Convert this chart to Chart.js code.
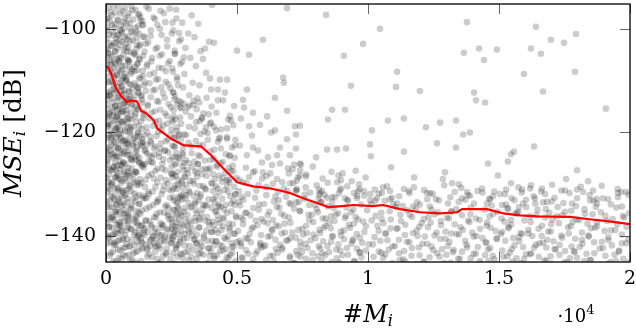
<!DOCTYPE html>
<html>
<head>
<meta charset="utf-8">
<script src="https://cdn.jsdelivr.net/npm/chart.js"></script>
<style>
  body { margin: 0; background: #fff; }
  canvas { display: block; }
</style>
</head>
<body>
<canvas id="mycanvas" width="636" height="330"></canvas>
<script>
// x in units of 10^4 (as printed on the axis), y = MSE_i in dB
var xTicks = [0, 0.5, 1, 1.5, 2];
var yTicks = [-140, -120, -100];

// running mean (red line)
var meanX = [0.004,0.019,0.038,0.057,0.080,0.095,0.118,0.134,0.153,0.183,0.195,0.248,0.298,0.363,0.401,0.447,0.500,0.561,0.626,0.664,0.702,0.752,0.817,0.847,0.900,0.943,1.019,1.057,1.122,1.199,1.275,1.340,1.359,1.454,1.515,1.580,1.645,1.771,1.836,1.912,2.000];
var meanY = [-107.1,-108.5,-111.5,-112.9,-114.2,-113.8,-114.0,-115.8,-116.3,-117.7,-119.2,-121.2,-122.5,-122.7,-124.4,-126.9,-129.6,-130.4,-130.8,-131.2,-131.7,-132.7,-133.8,-134.4,-134.2,-134.0,-134.2,-134.0,-134.8,-135.4,-135.6,-135.4,-134.8,-134.8,-135.6,-136.0,-136.2,-136.3,-136.7,-137.1,-137.7];

// samples, x 0 - 0.13
var cloudA = [[0.048,-95.8],[0.113,-96.3],[0.021,-97.4],[0.087,-97.0],[0.064,-96.6],[0.009,-95.9],[0.131,-97.7],[0.036,-96.9],[0.097,-95.6],[0.072,-97.9],
[0.015,-98.6],[0.058,-99.3],[0.104,-98.2],[0.033,-99.8],[0.079,-98.9],[0.122,-99.5],[0.002,-98.1],[0.046,-98.4],[0.091,-99.9],[0.067,-98.7],
[0.027,-100.7],[0.083,-101.4],[0.054,-100.2],[0.118,-101.8],[0.011,-101.1],[0.039,-101.9],[0.096,-100.5],[0.071,-101.6],[0.006,-100.3],[0.126,-100.9],
[0.062,-102.5],[0.019,-103.2],[0.103,-102.2],[0.044,-103.8],[0.085,-103.5],[0.031,-102.8],[0.128,-103.3],[0.075,-102.9],[0.052,-102.1],[0.001,-103.9],
[0.093,-104.5],[0.024,-105.3],[0.068,-104.1],[0.041,-105.8],[0.114,-105.1],[0.008,-104.7],[0.057,-105.6],[0.082,-105.9],[0.035,-104.3],[0.107,-104.9],
[0.016,-106.4],[0.073,-107.2],[0.049,-106.1],[0.099,-107.8],[0.028,-107.5],[0.121,-106.7],[0.061,-107.9],[0.004,-107.0],[0.086,-106.3],[0.037,-106.8],
[0.055,-108.3],[0.012,-109.1],[0.094,-108.7],[0.032,-109.6],[0.078,-109.9],[0.109,-108.2],[0.043,-108.9],[0.066,-109.4],[0.023,-108.5],[0.127,-109.7],
[0.088,-110.6],[0.047,-111.3],[0.007,-110.2],[0.069,-111.8],[0.115,-111.0],[0.029,-110.9],[0.053,-110.4],[0.101,-111.6],[0.018,-111.9],[0.076,-110.1],
[0.034,-112.4],[0.092,-113.1],[0.061,-112.7],[0.005,-113.6],[0.124,-112.2],[0.045,-113.9],[0.081,-113.4],[0.014,-112.9],[0.107,-113.8],[0.058,-112.1],
[0.071,-114.3],[0.026,-115.2],[0.098,-114.8],[0.042,-115.7],[0.119,-115.4],[0.003,-114.6],[0.063,-115.9],[0.085,-114.1],[0.035,-114.9],[0.051,-115.5],
[0.012,-116.5],[0.089,-117.3],[0.057,-116.2],[0.031,-117.8],[0.111,-116.9],[0.074,-117.6],[0.046,-116.7],[0.002,-117.2],[0.096,-116.1],[0.024,-117.5],
[0.067,-118.4],[0.038,-119.2],[0.105,-118.9],[0.017,-119.7],[0.082,-118.1],[0.054,-119.5],[0.123,-119.9],[0.009,-118.6],[0.044,-118.3],[0.093,-119.4],
[0.029,-120.6],[0.077,-121.4],[0.051,-120.2],[0.114,-121.9],[0.006,-121.1],[0.063,-121.7],[0.039,-120.9],[0.091,-120.4],[0.019,-121.5],[0.128,-120.8],
[0.084,-122.3],[0.047,-123.1],[0.013,-122.8],[0.069,-123.7],[0.102,-122.6],[0.032,-123.9],[0.058,-122.1],[0.118,-123.4],[0.001,-123.2],[0.076,-122.9],
[0.041,-124.5],[0.094,-125.2],[0.022,-124.1],[0.066,-125.8],[0.109,-124.8],[0.053,-125.5],[0.008,-125.1],[0.083,-124.3],[0.035,-125.9],[0.125,-125.6],
[0.061,-126.4],[0.017,-127.3],[0.098,-126.9],[0.043,-127.8],[0.074,-126.1],[0.028,-126.7],[0.112,-127.5],[0.055,-127.1],[0.004,-126.2],[0.088,-127.9],
[0.036,-128.6],[0.079,-129.4],[0.012,-128.2],[0.104,-129.1],[0.057,-129.8],[0.025,-129.6],[0.091,-128.4],[0.046,-128.9],[0.121,-129.7],[0.068,-128.1],
[0.007,-130.5],[0.052,-131.3],[0.086,-130.8],[0.033,-131.9],[0.117,-130.2],[0.064,-131.6],[0.021,-130.1],[0.097,-131.4],[0.042,-130.7],[0.075,-131.1],
[0.058,-132.4],[0.015,-133.2],[0.102,-132.9],[0.039,-133.8],[0.081,-133.5],[0.126,-132.1],[0.027,-132.6],[0.069,-133.9],[0.048,-132.8],[0.003,-133.4],
[0.093,-134.6],[0.034,-135.3],[0.061,-134.2],[0.011,-135.8],[0.115,-135.1],[0.077,-135.6],[0.045,-134.9],[0.023,-134.4],[0.087,-135.9],[0.054,-135.4],
[0.018,-136.3],[0.071,-137.1],[0.106,-136.8],[0.041,-137.7],[0.062,-136.5],[0.006,-137.4],[0.123,-137.9],[0.083,-136.1],[0.029,-136.9],[0.049,-137.3],
[0.095,-138.6],[0.036,-139.4],[0.013,-138.2],[0.072,-139.8],[0.056,-138.9],[0.111,-139.2],[0.024,-139.9],[0.084,-138.4],[0.044,-138.7],[0.001,-139.6],
[0.065,-140.4],[0.019,-141.2],[0.098,-140.9],[0.037,-141.7],[0.079,-141.5],[0.119,-140.2],[0.051,-140.7],[0.008,-140.1],[0.089,-141.9],[0.031,-141.3],
[0.046,-142.6],[0.104,-143.3],[0.014,-143.8],[0.073,-142.2],[0.059,-144.4],[0.027,-144.9],[0.092,-144.7],[0.039,-145.4],[0.121,-142.9],[0.066,-143.6],
[0.023,-99.2],[0.061,-100.8],[0.039,-102.6],[0.007,-104.0],[0.081,-104.4],[0.052,-106.6],[0.018,-108.0],[0.070,-109.2],[0.033,-110.5],[0.087,-112.0],[0.011,-112.3],[0.049,-113.0],[0.064,-114.6],[0.027,-116.0],[0.078,-116.4],[0.042,-117.0],[0.005,-118.8],[0.058,-118.0],[0.093,-120.0],[0.021,-120.3],[0.072,-119.6],[0.036,-122.0],[0.055,-121.2],[0.013,-124.4],[0.086,-123.6],[0.047,-124.7],[0.030,-126.6],[0.068,-127.6],[0.003,-128.8],[0.080,-128.3],
[0.044,-101.2],[0.016,-106.0],[0.090,-107.4],[0.059,-111.0],[0.025,-113.4],[0.076,-115.0],[0.008,-116.9],[0.046,-119.0],[0.083,-121.8],[0.019,-122.4],[0.062,-124.0],[0.037,-127.2],[0.099,-125.4],[0.054,-129.0],[0.014,-131.0],[0.071,-132.2],[0.040,-134.0],[0.026,-136.4],[0.060,-138.1],[0.085,-137.6]];
var cloudA2 = [[0.017,-96.8],[0.072,-95.9],[0.123,-97.3],[0.044,-98.2],[0.091,-98.9],[0.006,-99.7],[0.138,-99.2],[0.059,-100.4],[0.027,-101.3],[0.104,-100.9],[0.081,-102.0],[0.013,-102.8],[0.147,-101.6],[0.052,-103.1],[0.116,-103.9],[0.035,-104.4],[0.067,-105.0],[0.002,-105.3],[0.128,-105.8],[0.089,-106.3],[0.021,-106.9],[0.046,-107.8],[0.109,-107.3],[0.074,-108.6],[0.140,-108.1],[0.031,-109.2],[0.058,-109.9],[0.011,-110.3],[0.095,-110.8],[0.121,-111.4],[0.039,-111.9],[0.069,-112.5],[0.004,-112.9],[0.087,-113.5],[0.133,-113.1],[0.025,-114.2],[0.053,-114.8],[0.112,-115.1],[0.078,-115.7],[0.015,-116.2],[0.144,-116.0],[0.041,-116.9],[0.097,-117.4],[0.063,-117.9],[0.008,-118.3],[0.126,-118.8],[0.034,-119.5],[0.084,-119.1],[0.049,-120.3],[0.118,-120.7],[0.019,-121.0],[0.071,-121.6],[0.102,-122.3],[0.037,-122.8],[0.136,-122.0],[0.055,-123.4],[0.003,-123.9],[0.090,-124.3],[0.028,-124.9],[0.114,-125.3],[0.066,-125.8],[0.043,-126.4],[0.148,-126.1],[0.012,-127.0],[0.082,-127.5],[0.105,-128.0],[0.036,-128.7],[0.061,-129.3],[0.129,-129.0],[0.020,-129.8],[0.093,-130.4],[0.047,-130.9],[0.007,-131.5],[0.076,-131.9],[0.117,-132.4],[0.032,-133.0],[0.141,-132.8],[0.057,-133.6],[0.099,-134.1],[0.014,-134.5],[0.070,-135.0],[0.125,-135.4],[0.040,-135.9],[0.086,-136.5],[0.001,-136.8],[0.110,-137.3],[0.051,-137.9],[0.024,-138.4],[0.134,-138.0],[0.079,-138.9],[0.045,-139.5],[0.107,-139.8],[0.010,-140.3],[0.064,-140.8],[0.120,-141.2],[0.030,-141.7],[0.092,-142.1],[0.054,-142.8],[0.139,-142.5],[0.018,-143.3],[0.075,-143.9],[0.100,-144.5],[0.038,-144.8],
[0.029,-95.7],[0.101,-96.4],[0.056,-97.0],[0.009,-97.9],[0.083,-97.6],[0.132,-98.4],[0.036,-99.1],[0.068,-99.9],[0.115,-100.6],[0.048,-101.1],[0.003,-101.9],[0.093,-102.4],[0.024,-103.3],[0.130,-103.0],[0.075,-103.7],[0.107,-104.6],[0.016,-104.9],[0.050,-105.6],[0.142,-105.2],[0.085,-106.0],[0.033,-106.5],[0.119,-106.8],[0.062,-107.1],[0.005,-107.7],[0.097,-108.3],[0.042,-108.8],[0.131,-109.4],[0.077,-109.6],[0.022,-110.1],[0.108,-110.5],[0.060,-111.2],[0.145,-110.9],[0.030,-111.6],[0.088,-112.2],[0.014,-112.7],[0.124,-112.4],[0.047,-113.3],[0.070,-113.8],[0.099,-114.5],[0.036,-114.9],[0.137,-114.3],[0.006,-115.5],[0.064,-115.9],[0.112,-116.4],[0.026,-116.7],[0.083,-117.1],[0.050,-117.6],[0.134,-117.8],[0.017,-118.5],[0.094,-118.9],[0.040,-119.3],[0.073,-119.8],[0.122,-120.1],[0.009,-120.5],[0.057,-120.9],[0.103,-121.3],[0.031,-121.8],[0.080,-122.2],[0.140,-122.6],[0.046,-123.0],[0.016,-123.5],[0.112,-123.8],[0.068,-124.2],[0.035,-124.7],[0.096,-125.0],[0.005,-125.6],[0.127,-125.9],[0.055,-126.3],[0.085,-126.8],[0.023,-127.3],[0.117,-127.7],[0.044,-128.3],[0.073,-128.9],[0.010,-129.5],[0.135,-129.7],[0.091,-130.2],[0.033,-130.7],[0.062,-131.2],[0.108,-131.8],[0.019,-132.3],[0.080,-132.8],[0.049,-133.3],[0.126,-133.8],[0.003,-134.3],[0.094,-134.8],[0.037,-135.3],[0.067,-135.7],[0.113,-136.2],[0.022,-136.6],[0.084,-137.1],[0.052,-137.6],[0.139,-137.8],[0.011,-138.3],[0.098,-138.7],[0.060,-139.1],[0.028,-139.6],[0.123,-140.0],[0.081,-140.5],[0.043,-141.0],[0.006,-141.4],[0.109,-141.8],[0.066,-142.3],[0.026,-143.0],[0.087,-143.6],[0.050,-144.2],[0.115,-145.1]];

// samples, x 0.1 - 0.3
var cloudB = [[0.154,-95.7],[0.208,-96.5],[0.127,-97.2],[0.243,-96.1],[0.181,-97.8],[0.269,-98.0],[0.139,-98.5],[0.196,-99.2],[0.226,-98.7],[0.112,-99.8],
[0.171,-100.3],[0.251,-100.9],[0.143,-101.5],[0.212,-101.2],[0.286,-102.0],[0.161,-102.6],[0.118,-103.1],[0.234,-103.4],[0.189,-103.9],[0.147,-104.4],
[0.264,-104.8],[0.205,-105.2],[0.128,-105.9],[0.173,-106.3],[0.297,-105.5],[0.237,-106.7],[0.156,-107.2],[0.215,-107.6],[0.119,-108.0],[0.184,-108.5],
[0.256,-108.3],[0.141,-109.1],[0.199,-109.7],[0.228,-110.2],[0.166,-110.5],[0.275,-110.9],[0.124,-111.3],[0.187,-111.7],[0.246,-111.5],[0.152,-112.0],
[0.217,-112.4],[0.108,-112.8],[0.171,-113.2],[0.263,-113.0],[0.138,-113.7],[0.201,-114.1],[0.239,-114.5],[0.159,-114.9],[0.283,-115.2],[0.121,-115.6],
[0.186,-115.9],[0.225,-116.3],[0.144,-116.6],[0.258,-116.9],[0.167,-117.3],[0.203,-117.7],[0.116,-118.0],[0.234,-118.3],[0.179,-118.7],[0.271,-119.0],
[0.137,-119.3],[0.212,-119.6],[0.158,-120.0],[0.247,-120.4],[0.193,-120.7],[0.109,-121.0],[0.286,-121.3],[0.229,-121.7],[0.171,-122.0],[0.133,-122.4],
[0.261,-122.8],[0.207,-123.1],[0.149,-123.4],[0.238,-123.8],[0.184,-124.2],[0.119,-124.5],[0.276,-124.9],[0.219,-125.2],[0.163,-125.6],[0.297,-125.9],
[0.141,-126.3],[0.251,-126.6],[0.196,-127.0],[0.228,-127.3],[0.114,-127.7],[0.174,-128.0],[0.266,-128.4],[0.208,-128.7],[0.152,-129.1],[0.289,-129.4],
[0.237,-129.8],[0.128,-130.1],[0.189,-130.5],[0.259,-130.8],[0.217,-131.2],[0.161,-131.5],[0.294,-131.9],[0.142,-132.2],[0.244,-132.6],[0.199,-132.9],
[0.112,-133.3],[0.273,-133.6],[0.179,-134.0],[0.226,-134.3],[0.154,-134.7],[0.262,-135.0],[0.206,-135.4],[0.131,-135.7],[0.287,-136.1],[0.191,-136.4],
[0.241,-136.8],[0.167,-137.1],[0.119,-137.5],[0.214,-137.8],[0.276,-138.2],[0.148,-138.5],[0.233,-138.9],[0.186,-139.2],[0.298,-139.6],[0.126,-139.9],
[0.254,-140.3],[0.171,-140.6],[0.208,-141.0],[0.139,-141.3],[0.269,-141.7],[0.195,-142.0],[0.232,-142.4],[0.157,-142.7],[0.113,-143.1],[0.283,-143.4],
[0.218,-143.8],[0.176,-144.1],[0.246,-144.5],[0.134,-144.8],[0.201,-145.3],[0.264,-145.5],
[0.203,-118.9],[0.147,-120.5],[0.262,-121.0],[0.118,-122.9],[0.224,-123.5],[0.176,-124.8],[0.291,-124.0],[0.136,-126.0],[0.249,-127.9],[0.183,-128.9],
[0.109,-129.6],[0.221,-130.3],[0.164,-131.9],[0.279,-132.4],[0.128,-133.8],[0.238,-134.6],[0.193,-135.7],[0.151,-136.9],[0.269,-137.3],[0.212,-138.4],
[0.124,-138.9],[0.181,-140.0],[0.247,-141.4],[0.158,-142.3],[0.229,-143.2],[0.196,-144.4],[0.142,-139.4],[0.172,-137.8],[0.206,-139.9],[0.188,-141.9],
[0.164,-143.5],[0.221,-140.7],[0.254,-138.0],[0.133,-141.0],[0.236,-136.1],[0.117,-136.4],[0.276,-134.8],[0.199,-133.3],[0.149,-132.6],[0.215,-126.1]];
var cloudB2 = [[0.163,-96.1],[0.221,-97.0],[0.187,-98.1],[0.254,-98.8],[0.142,-99.3],[0.206,-100.0],[0.279,-100.8],[0.171,-101.4],[0.233,-102.1],[0.152,-102.9],[0.196,-103.6],[0.262,-104.2],[0.214,-104.9],[0.176,-105.6],[0.243,-106.2],[0.158,-106.8],[0.290,-106.4],[0.201,-107.5],[0.229,-108.2],[0.167,-108.8],[0.271,-109.3],[0.191,-109.8],[0.148,-110.3],[0.238,-110.7],[0.211,-111.3],[0.179,-111.9],[0.257,-112.3],[0.136,-112.8],[0.224,-113.3],[0.195,-113.9],[0.285,-114.1],[0.160,-114.6],[0.247,-115.1],[0.207,-115.6],[0.174,-116.2],[0.232,-116.8],[0.143,-117.2],[0.266,-117.5],[0.188,-117.9],[0.218,-118.6],[0.154,-119.0],[0.250,-119.4],[0.199,-119.9],[0.281,-120.3],[0.169,-120.8],[0.236,-121.3],[0.141,-121.8],[0.209,-122.1],[0.262,-122.6],[0.183,-123.0],[0.226,-123.5],[0.157,-124.0],[0.294,-124.3],[0.203,-124.7],[0.245,-125.3],[0.172,-125.7],[0.268,-126.0],[0.137,-126.5],[0.215,-127.0],[0.189,-127.4],[0.251,-127.9],[0.162,-128.3],[0.299,-128.6],[0.229,-129.2],[0.196,-129.6],[0.275,-130.1],[0.149,-130.5],[0.240,-131.0],[0.178,-131.4],[0.212,-131.9],[0.286,-132.2],[0.155,-132.7],[0.259,-133.1],[0.193,-133.5],[0.232,-134.0],[0.166,-134.4],[0.300,-134.6],[0.138,-135.0],[0.221,-135.5],[0.272,-135.8],[0.184,-136.3],[0.249,-136.7],[0.152,-137.1],[0.208,-137.5],[0.291,-137.8],[0.174,-138.2],[0.236,-138.6],[0.262,-139.0],[0.197,-139.4],[0.146,-139.8],[0.225,-140.1],[0.282,-140.5],[0.168,-140.9],[0.249,-141.3],[0.203,-141.8],[0.135,-142.2],[0.267,-142.5],[0.187,-143.0],[0.230,-143.5],[0.157,-144.0],[0.294,-144.3],[0.211,-144.9],
[0.145,-138.8],[0.161,-139.2],[0.178,-140.2],[0.192,-140.6],[0.214,-139.8],[0.183,-141.4],[0.207,-142.4],[0.169,-141.9],[0.226,-141.1],[0.241,-140.1],[0.134,-140.4],[0.152,-141.6],[0.258,-139.3],[0.189,-138.5],[0.218,-137.9],[0.138,-121.2],[0.156,-122.4],[0.171,-121.7],[0.149,-123.6],[0.188,-122.7],[0.166,-124.5],[0.203,-123.9],[0.127,-124.9],[0.179,-125.9],[0.144,-126.8]];

// samples, x 0.25 - 0.5
var cloudC = [[0.268,-96.3],[0.327,-97.4],[0.291,-98.8],[0.257,-100.3],[0.314,-100.9],[0.352,-99.0],[0.279,-102.4],[0.338,-101.6],[0.303,-103.7],[0.262,-104.8],[0.361,-104.3],[0.322,-105.6],[0.284,-106.8],[0.253,-107.6],[0.343,-107.2],[0.299,-108.7],[0.271,-109.8],[0.331,-110.4],[0.357,-110.9],[0.294,-111.3],[0.256,-112.3],[0.318,-112.8],[0.349,-113.4],[0.276,-113.9],[0.334,-114.7],[0.288,-115.3],
[0.384,-113.3],[0.271,-114.6],[0.447,-113.8],[0.312,-115.1],[0.356,-114.2],[0.489,-114.9],[0.262,-113.6],[0.403,-115.0],[0.334,-113.9],[0.296,-114.4],
[0.421,-116.2],[0.258,-115.7],[0.367,-117.3],[0.305,-116.0],[0.473,-116.8],[0.283,-117.1],[0.346,-115.5],[0.392,-116.5],[0.251,-117.5],[0.324,-116.9],
[0.287,-118.3],[0.358,-117.8],[0.439,-119.4],[0.269,-119.7],[0.317,-118.9],[0.401,-118.1],[0.486,-118.6],[0.339,-119.2],[0.254,-118.0],[0.376,-119.8],
[0.299,-120.4],[0.462,-120.9],[0.343,-121.6],[0.261,-121.1],[0.388,-120.1],[0.315,-122.0],[0.427,-121.8],[0.277,-120.6],[0.361,-120.3],[0.494,-121.4],
[0.326,-122.7],[0.413,-123.3],[0.268,-123.9],[0.371,-122.4],[0.457,-124.2],[0.294,-123.1],[0.352,-124.4],[0.253,-122.5],[0.398,-123.7],[0.481,-122.9],
[0.412,-125.1],[0.267,-124.7],[0.338,-125.6],[0.491,-124.9],[0.305,-125.3],[0.359,-124.6],[0.446,-125.7],[0.281,-125.0],[0.377,-125.4],[0.254,-124.8],
[0.423,-126.3],[0.316,-125.9],[0.468,-126.8],[0.292,-126.5],[0.351,-126.1],[0.398,-126.9],[0.262,-126.2],[0.437,-125.9],[0.329,-126.7],[0.484,-126.4],
[0.273,-127.6],[0.365,-127.1],[0.409,-128.0],[0.296,-127.3],[0.455,-127.8],[0.341,-127.5],[0.258,-128.1],[0.389,-127.2],[0.476,-127.4],[0.313,-127.9],
[0.347,-128.6],[0.432,-128.3],[0.276,-129.1],[0.498,-128.8],[0.321,-129.3],[0.384,-128.4],[0.253,-128.7],[0.461,-129.2],[0.302,-128.5],[0.416,-129.0],
[0.288,-129.8],[0.371,-130.4],[0.443,-129.5],[0.264,-130.2],[0.336,-129.9],[0.489,-130.5],[0.309,-130.1],[0.402,-129.7],[0.357,-130.3],[0.471,-129.6],
[0.251,-131.2],[0.427,-130.8],[0.319,-131.6],[0.381,-131.0],[0.466,-131.4],[0.294,-130.7],[0.348,-131.7],[0.408,-131.3],[0.271,-130.9],[0.452,-131.1],
[0.334,-132.2],[0.493,-131.9],[0.282,-132.7],[0.419,-132.4],[0.362,-132.0],[0.257,-132.5],[0.444,-132.8],[0.306,-132.1],[0.391,-132.9],[0.474,-132.3],
[0.269,-133.4],[0.353,-133.1],[0.431,-133.9],[0.315,-133.6],[0.486,-133.2],[0.378,-134.1],[0.291,-133.0],[0.414,-133.5],[0.339,-133.8],[0.457,-134.0],
[0.403,-134.6],[0.256,-134.9],[0.327,-134.3],[0.479,-135.2],[0.368,-134.8],[0.298,-135.3],[0.438,-134.4],[0.343,-135.0],[0.275,-134.5],[0.421,-135.1],
[0.311,-135.9],[0.462,-135.5],[0.386,-136.3],[0.262,-136.1],[0.347,-135.6],[0.497,-136.4],[0.285,-135.7],[0.426,-136.0],[0.359,-136.5],[0.238,-135.8],
[0.379,-137.0],[0.253,-137.4],[0.448,-136.7],[0.322,-137.6],[0.406,-137.2],[0.279,-136.9],[0.484,-137.7],[0.341,-137.1],[0.302,-136.8],[0.433,-137.5],
[0.266,-138.2],[0.394,-137.9],[0.331,-138.7],[0.471,-138.4],[0.297,-138.0],[0.418,-138.8],[0.356,-138.3],[0.252,-138.6],[0.447,-138.1],[0.314,-138.9],
[0.427,-139.4],[0.288,-139.1],[0.373,-139.9],[0.492,-139.6],[0.318,-139.3],[0.259,-140.0],[0.404,-139.2],[0.346,-139.7],[0.466,-140.1],[0.274,-139.5],
[0.336,-140.6],[0.451,-140.3],[0.283,-141.1],[0.387,-140.9],[0.308,-140.4],[0.479,-141.3],[0.254,-140.7],[0.421,-141.0],[0.362,-141.2],[0.296,-140.5],
[0.412,-141.8],[0.267,-142.2],[0.344,-141.5],[0.458,-142.5],[0.319,-141.9],[0.393,-142.3],[0.278,-141.6],[0.487,-142.0],[0.358,-142.4],[0.435,-141.7],
[0.302,-143.1],[0.446,-142.8],[0.371,-143.6],[0.256,-143.3],[0.423,-143.7],[0.334,-142.7],[0.482,-143.2],[0.289,-143.5],[0.401,-143.0],[0.352,-143.4],
[0.468,-144.2],[0.317,-144.6],[0.389,-145.1],[0.272,-144.0],[0.438,-145.4],[0.346,-144.4],[0.261,-145.3],[0.413,-143.9],[0.494,-144.8],[0.328,-145.5]];
var cloudC2 = [[0.318,-114.8],[0.372,-116.3],[0.344,-118.0],[0.412,-118.9],[0.306,-120.5],[0.389,-121.4],[0.356,-122.5],[0.438,-123.1],[0.327,-124.0],[0.471,-124.6],[0.398,-125.3],[0.351,-126.1],[0.424,-126.6],[0.309,-127.2],[0.486,-127.5],[0.367,-128.1],[0.445,-128.8],[0.332,-129.4],[0.405,-129.9],[0.462,-130.3],[0.378,-130.8],[0.316,-131.3],[0.433,-131.6],[0.494,-132.0],[0.359,-132.4],[0.409,-132.9],[0.341,-133.4],[0.478,-133.7],[0.385,-134.1],[0.322,-134.5],[0.451,-134.9],[0.417,-135.3],[0.364,-135.8],[0.496,-136.1],[0.338,-136.5],[0.427,-136.9],[0.393,-137.3],[0.469,-137.6],[0.312,-138.0],[0.355,-138.4],[0.441,-138.8],[0.402,-139.2],[0.487,-139.5],[0.329,-139.9],[0.374,-140.3],[0.458,-140.6],[0.419,-141.0],[0.346,-141.4],[0.301,-141.8],[0.482,-142.1],[0.391,-142.4],[0.436,-142.9],[0.361,-143.3],[0.474,-143.6],[0.325,-144.0],[0.413,-144.4],[0.453,-145.0],[0.336,-145.3],
[0.347,-127.8],[0.381,-127.0],[0.419,-130.4],[0.468,-129.1],[0.303,-132.7],[0.372,-133.9],[0.429,-134.3],[0.491,-134.0],[0.356,-136.9],[0.411,-137.9],[0.448,-136.4],[0.317,-137.1],[0.383,-139.0],[0.472,-138.9],[0.339,-140.7],[0.405,-140.9],[0.443,-141.9],[0.367,-142.0],[0.499,-141.2],[0.313,-143.0],[0.396,-143.8],[0.461,-144.1]];

// samples, x 0.5 - 1
var cloudD = [[0.712,-127.1],[0.534,-126.8],[0.861,-127.6],[0.627,-127.9],[0.789,-126.6],[0.953,-127.4],[0.568,-127.5],[0.694,-126.9],[0.903,-127.9],[0.741,-127.3],
[0.612,-128.4],[0.827,-128.9],[0.509,-129.2],[0.764,-128.1],[0.938,-129.4],[0.653,-129.0],[0.887,-128.3],[0.546,-128.6],[0.728,-129.3],[0.991,-128.7],
[0.583,-130.1],[0.846,-129.7],[0.679,-130.8],[0.921,-130.4],[0.521,-129.6],[0.762,-130.6],[0.637,-129.9],[0.968,-130.9],[0.804,-130.2],[0.715,-129.8],
[0.658,-131.4],[0.893,-131.1],[0.541,-131.9],[0.779,-131.6],[0.612,-132.1],[0.946,-131.7],[0.834,-132.0],[0.507,-131.3],[0.726,-131.2],[0.985,-132.2],
[0.569,-132.6],[0.812,-132.9],[0.687,-132.4],[0.924,-133.2],[0.641,-133.3],[0.758,-132.8],[0.873,-132.5],[0.525,-133.0],[0.958,-132.7],[0.736,-133.4],
[0.603,-133.8],[0.847,-134.3],[0.512,-134.1],[0.699,-133.6],[0.918,-134.5],[0.776,-134.0],[0.562,-134.6],[0.974,-133.9],[0.652,-134.4],[0.821,-133.5],
[0.741,-135.2],[0.583,-134.9],[0.886,-135.6],[0.669,-135.7],[0.997,-135.0],[0.537,-135.5],[0.804,-134.8],[0.623,-135.3],[0.935,-135.4],[0.718,-134.7],
[0.858,-136.2],[0.594,-136.7],[0.773,-135.9],[0.516,-136.4],[0.962,-136.8],[0.681,-136.1],[0.912,-136.5],[0.637,-136.9],[0.827,-136.6],[0.551,-136.0],
[0.704,-137.4],[0.872,-137.1],[0.578,-137.9],[0.946,-137.6],[0.659,-138.1],[0.791,-137.3],[0.523,-137.7],[0.838,-138.0],[0.982,-137.2],[0.617,-137.5],
[0.749,-138.6],[0.896,-139.1],[0.562,-138.3],[0.683,-139.3],[0.815,-138.8],[0.504,-139.0],[0.931,-138.4],[0.633,-138.7],[0.767,-139.4],[0.858,-138.5],
[0.592,-139.8],[0.724,-140.3],[0.957,-139.6],[0.541,-140.5],[0.863,-140.0],[0.671,-139.5],[0.799,-140.4],[0.618,-140.1],[0.909,-140.6],[0.752,-139.7],
[0.829,-141.0],[0.516,-141.4],[0.694,-140.8],[0.978,-141.3],[0.588,-141.7],[0.741,-141.1],[0.887,-141.6],[0.647,-140.7],[0.941,-140.9],[0.553,-141.2],
[0.673,-142.2],[0.812,-141.9],[0.534,-142.7],[0.957,-142.4],[0.726,-142.9],[0.601,-142.0],[0.879,-142.6],[0.769,-142.3],[0.992,-142.8],[0.648,-142.5],
[0.571,-143.4],[0.851,-143.1],[0.703,-143.9],[0.924,-143.6],[0.518,-144.1],[0.788,-143.3],[0.637,-143.8],[0.969,-143.2],[0.742,-144.0],[0.836,-143.7],
[0.612,-144.6],[0.891,-145.1],[0.557,-145.4],[0.764,-144.4],[0.948,-144.9],[0.682,-145.5],[0.823,-144.7],[0.521,-144.3],[0.717,-145.2],[0.976,-145.6]];
var cloudD2 = [[0.537,-129.8],[0.612,-130.5],[0.693,-131.3],[0.758,-132.0],[0.843,-132.6],[0.921,-133.0],[0.507,-133.4],[0.584,-133.9],[0.662,-134.5],[0.739,-135.1],[0.809,-135.4],[0.877,-135.9],[0.953,-136.3],[0.523,-136.8],[0.601,-137.2],[0.681,-137.6],[0.764,-138.0],[0.832,-138.4],[0.908,-138.9],[0.986,-139.2],[0.548,-139.6],[0.627,-140.0],[0.704,-140.4],[0.781,-140.8],[0.859,-141.1],[0.937,-141.5],[0.515,-141.9],[0.593,-142.2],[0.672,-142.6],[0.748,-143.0],[0.826,-143.3],[0.902,-143.7],[0.975,-144.1],[0.562,-144.5],[0.641,-144.9],[0.719,-145.2],
[0.574,-131.2],[0.647,-132.3],[0.726,-133.5],[0.798,-134.0],[0.869,-134.6],[0.944,-134.9],[0.531,-135.5],[0.617,-136.0],[0.698,-136.4],[0.776,-136.9],[0.851,-137.4],[0.927,-137.8],[0.992,-138.1],[0.556,-138.6],[0.635,-138.9],[0.711,-139.3],[0.792,-139.7],[0.866,-140.1],[0.943,-140.6],[0.509,-140.9],[0.589,-141.3],[0.664,-141.7],[0.743,-142.0],[0.817,-142.4],[0.894,-142.8],[0.968,-143.1],[0.543,-143.4],[0.626,-143.8],[0.701,-144.2],[0.788,-144.6],[0.862,-145.0],
[0.596,-128.9],[0.673,-129.6],[0.729,-130.9],[0.813,-131.0],[0.889,-131.8],[0.958,-132.2],[0.518,-132.4],[0.659,-133.1],[0.706,-133.8],[0.786,-135.9],[0.838,-136.6],[0.916,-136.1],[0.571,-137.0],[0.649,-137.9],[0.734,-138.8],[0.817,-139.4],[0.897,-139.9],[0.969,-140.3],[0.533,-140.4],[0.608,-141.8],[0.688,-140.9],[0.762,-141.5],[0.845,-141.9],[0.919,-142.3],[0.578,-142.9],[0.655,-143.2],[0.731,-143.6],[0.809,-143.9],[0.881,-144.3],[0.948,-144.8]];

// samples, x 1 - 1.5
var cloudE = [[1.073,-130.4],[1.214,-131.1],[1.356,-130.7],[1.482,-131.4],[1.137,-130.9],[1.291,-130.2],[1.418,-131.3],[1.026,-131.0],[1.175,-130.6],[1.331,-131.5],
[1.247,-131.9],[1.092,-132.6],[1.389,-132.2],[1.158,-131.7],[1.463,-132.8],[1.314,-132.5],[1.041,-131.8],[1.226,-132.9],[1.437,-131.6],[1.119,-132.3],
[1.346,-133.4],[1.198,-133.9],[1.064,-133.2],[1.472,-134.1],[1.271,-133.1],[1.133,-134.2],[1.405,-133.7],[1.012,-133.8],[1.236,-134.3],[1.371,-133.0],
[1.183,-134.7],[1.318,-135.2],[1.051,-135.5],[1.446,-134.9],[1.107,-134.4],[1.267,-135.4],[1.392,-134.5],[1.494,-135.3],[1.149,-135.0],[1.337,-134.8],
[1.029,-136.1],[1.254,-135.8],[1.412,-136.6],[1.168,-136.3],[1.087,-136.8],[1.359,-136.0],[1.478,-135.7],[1.213,-136.7],[1.301,-136.4],[1.124,-135.9],
[1.387,-137.3],[1.142,-137.8],[1.278,-137.1],[1.453,-138.0],[1.059,-137.5],[1.196,-138.2],[1.331,-137.7],[1.014,-137.0],[1.239,-137.4],[1.426,-136.9],
[1.109,-138.6],[1.296,-139.1],[1.468,-138.4],[1.172,-139.4],[1.362,-138.8],[1.041,-139.0],[1.229,-138.3],[1.398,-139.3],[1.086,-138.5],[1.318,-139.5],
[1.254,-139.9],[1.437,-140.4],[1.118,-140.7],[1.347,-139.7],[1.025,-140.2],[1.189,-140.0],[1.491,-140.6],[1.276,-140.5],[1.067,-139.6],[1.403,-140.1],
[1.158,-141.2],[1.376,-141.7],[1.047,-140.9],[1.242,-142.0],[1.452,-141.3],[1.103,-141.9],[1.311,-141.1],[1.208,-141.5],[1.419,-142.1],[1.003,-141.6],
[1.283,-142.5],[1.138,-142.9],[1.466,-142.3],[1.051,-143.2],[1.359,-143.0],[1.194,-142.2],[1.412,-143.4],[1.079,-142.6],[1.264,-143.3],[1.327,-142.7],
[1.166,-143.8],[1.392,-144.3],[1.021,-144.0],[1.299,-143.6],[1.483,-144.5],[1.121,-144.6],[1.235,-144.1],[1.447,-143.7],[1.066,-143.5],[1.344,-144.4],
[1.214,-145.0],[1.378,-145.4],[1.093,-145.2],[1.461,-144.8],[1.287,-145.6],[1.142,-144.9],[1.316,-145.1],[1.037,-145.5],[1.429,-145.3],[1.186,-145.4]];
var cloudE2 = [[1.027,-133.2],[1.096,-133.8],[1.172,-134.3],[1.243,-134.9],[1.318,-135.3],[1.391,-135.8],[1.464,-136.2],[1.052,-136.7],[1.126,-137.1],[1.205,-137.5],[1.279,-137.9],[1.353,-138.3],[1.428,-138.6],[1.487,-139.0],[1.068,-139.4],[1.141,-139.8],[1.217,-140.1],[1.296,-140.5],[1.371,-140.9],[1.449,-141.2],[1.019,-141.6],[1.094,-142.0],[1.168,-142.3],[1.249,-142.7],[1.324,-143.1],[1.403,-143.4],[1.476,-143.8],[1.058,-144.2],[1.134,-144.5],[1.212,-144.9],[1.291,-145.2],
[1.083,-135.2],[1.159,-135.9],[1.231,-136.3],[1.309,-136.6],[1.382,-137.0],[1.455,-137.4],[1.036,-138.0],[1.113,-138.5],[1.186,-138.9],[1.262,-139.3],[1.338,-139.6],[1.414,-140.0],[1.492,-140.4],[1.074,-140.8],[1.149,-141.1],[1.226,-141.5],[1.305,-141.9],[1.379,-142.2],[1.458,-142.6],[1.041,-143.0],[1.118,-143.3],[1.197,-143.7],[1.273,-144.0],[1.351,-144.4],[1.427,-144.8]];

// samples, x 1.5 - 2
var cloudF = [[1.574,-130.6],[1.738,-131.2],[1.892,-130.3],[1.661,-131.4],[1.953,-130.9],[1.527,-131.0],[1.812,-130.5],[1.703,-130.1],[1.985,-131.5],[1.619,-130.8],
[1.846,-132.1],[1.548,-132.7],[1.769,-131.7],[1.917,-132.9],[1.632,-132.3],[1.994,-132.0],[1.712,-132.6],[1.503,-131.9],[1.873,-132.8],[1.587,-131.6],
[1.683,-133.4],[1.927,-133.9],[1.559,-133.1],[1.794,-134.2],[1.638,-133.7],[1.861,-133.2],[1.512,-134.0],[1.746,-133.6],[1.969,-134.3],[1.603,-133.0],
[1.826,-134.8],[1.574,-135.3],[1.948,-134.5],[1.692,-135.5],[1.533,-134.6],[1.776,-135.1],[1.889,-135.4],[1.647,-134.9],[1.997,-135.6],[1.724,-134.4],
[1.618,-136.2],[1.857,-135.8],[1.509,-136.6],[1.742,-136.0],[1.934,-136.7],[1.677,-136.4],[1.563,-135.7],[1.806,-136.9],[1.973,-136.1],[1.704,-136.8],
[1.781,-137.3],[1.546,-137.8],[1.912,-137.1],[1.664,-138.0],[1.838,-137.6],[1.597,-137.0],[1.987,-138.2],[1.729,-137.5],[1.521,-137.2],[1.874,-138.1],
[1.651,-138.6],[1.903,-139.0],[1.582,-139.4],[1.763,-138.3],[1.944,-138.8],[1.536,-138.5],[1.817,-139.3],[1.698,-139.1],[1.866,-138.4],[1.612,-139.5],
[1.738,-139.9],[1.554,-140.4],[1.969,-139.7],[1.684,-140.7],[1.842,-140.1],[1.507,-139.6],[1.791,-140.5],[1.627,-140.0],[1.918,-140.8],[1.576,-140.2],
[1.863,-141.2],[1.641,-141.7],[1.524,-140.9],[1.777,-142.0],[1.986,-141.4],[1.708,-141.0],[1.592,-142.1],[1.931,-141.8],[1.819,-141.5],[1.668,-141.3],
[1.549,-142.5],[1.752,-142.9],[1.897,-142.3],[1.623,-143.3],[1.958,-143.0],[1.681,-142.2],[1.834,-143.4],[1.512,-142.8],[1.716,-142.6],[1.789,-143.1],
[1.906,-143.8],[1.567,-144.3],[1.731,-143.6],[1.849,-144.6],[1.652,-144.0],[1.974,-144.4],[1.603,-143.5],[1.798,-144.2],[1.532,-143.9],[1.681,-144.7],
[1.759,-145.0],[1.917,-145.4],[1.584,-145.2],[1.826,-144.8],[1.638,-145.5],[1.993,-145.1],[1.701,-145.3],[1.551,-144.9],[1.872,-145.6],[1.946,-144.8]];
var cloudF2 = [[1.527,-133.9],[1.604,-134.4],[1.679,-134.8],[1.752,-135.3],[1.828,-135.7],[1.906,-136.1],[1.978,-136.4],[1.546,-136.9],[1.621,-137.3],[1.699,-137.7],[1.774,-138.1],[1.851,-138.5],[1.927,-138.9],[1.512,-139.2],[1.588,-139.6],[1.663,-140.0],[1.741,-140.3],[1.817,-140.7],[1.893,-141.1],[1.969,-141.4],[1.559,-141.8],[1.634,-142.2],[1.712,-142.5],[1.786,-142.9],[1.864,-143.3],[1.941,-143.6],[1.517,-144.0],[1.596,-144.4],[1.673,-144.7],[1.749,-145.1],
[1.568,-135.5],[1.643,-135.9],[1.721,-136.2],[1.797,-136.8],[1.874,-137.3],[1.952,-137.7],[1.536,-138.2],[1.612,-138.8],[1.688,-139.1],[1.766,-139.5],[1.842,-139.9],[1.917,-140.2],[1.993,-140.6],[1.577,-141.0],[1.654,-141.4],[1.731,-141.7],[1.808,-142.1],[1.884,-142.4],[1.958,-142.8],[1.541,-143.2],[1.619,-143.5],[1.697,-143.9],[1.771,-144.3],[1.849,-144.6],[1.925,-145.0]];

// scattered samples above the main band
var cloudHigh = [[1.378,-98.7],[1.641,-99.6],[1.794,-101.0],[1.698,-102.1],[1.748,-102.7],[1.366,-104.6],[1.424,-103.8],[1.492,-104.0],[1.443,-106.0],[1.622,-103.8],[1.660,-104.8],[1.790,-108.3],[1.595,-108.7],[1.198,-112.0],[1.405,-112.3],[1.412,-113.8],[1.447,-114.2],[1.668,-112.1],[1.908,-115.4],[1.221,-119.0],[1.275,-118.1],[1.336,-117.7],[1.363,-120.4],[1.389,-120.0],
[0.405,-95.4],[0.691,-96.0],[0.840,-97.3],[1.046,-100.0],[0.981,-102.9],[0.908,-105.2],[1.111,-108.3],[1.107,-111.2],[0.935,-111.0],[0.599,-102.1],[0.500,-104.2],[0.546,-105.0],[0.676,-109.4],[0.679,-110.4],[0.538,-111.7],[0.523,-113.7],[0.645,-113.3],[0.527,-115.2],[0.561,-116.2],[0.615,-116.9],[0.691,-115.8],[0.863,-115.6],[0.912,-115.6],[0.847,-117.5],[1.076,-117.7],[1.137,-117.3],[1.015,-119.6],[0.721,-118.8],[0.740,-118.7],[0.588,-118.5],[0.546,-118.8],[0.515,-117.3],[0.466,-117.5],[0.477,-117.7],[0.725,-120.4],[0.691,-121.3],[0.645,-119.6],[0.630,-120.0],[0.557,-120.6],[0.393,-102.5],[0.412,-102.7],[0.378,-103.8],[0.370,-105.8],[0.382,-108.5],[0.397,-109.6],[0.435,-109.8],[0.462,-109.8],[0.454,-112.3],[0.427,-111.7],[0.401,-111.7],[0.427,-113.8],[0.366,-117.1],[0.397,-118.3],[0.420,-119.6],[0.462,-119.2],[0.382,-119.0],[0.435,-121.0],
[1.008,-122.3],[1.011,-124.6],[0.916,-123.1],[0.882,-123.3],[0.844,-123.3],[0.802,-124.8],[0.725,-123.1],[0.718,-126.2],[0.744,-126.2],[1.137,-123.7],[1.088,-126.7],[1.176,-128.7],[0.740,-128.3],[0.763,-128.5],[0.882,-129.6],[0.897,-129.2],[0.897,-130.8],[0.966,-130.0],[0.962,-131.3],[0.985,-131.3],[1.008,-131.9],[1.057,-130.6],[1.053,-131.7],[1.084,-131.3],[1.156,-131.3],[1.225,-131.7],[0.824,-131.3],[0.813,-132.1],[0.863,-132.5],[0.863,-133.5],[0.912,-132.7],[0.821,-133.5],[1.034,-132.7],[1.008,-133.1],[1.084,-132.9],[1.111,-133.7],[1.187,-133.5],[0.725,-131.2],
[1.263,-122.1],[1.336,-122.9],[1.557,-123.7],[1.546,-124.2],[1.634,-122.7],[1.458,-126.0],[1.534,-125.6],[1.294,-127.7],[1.286,-129.0],[1.321,-129.8],[1.347,-130.0],[1.496,-128.3],[1.546,-129.8],[1.435,-130.8],[1.378,-131.5],[1.382,-132.1],[1.359,-132.7],[1.260,-132.9],[1.237,-131.7],[1.305,-133.7],[1.477,-132.3],[1.466,-132.9],[1.454,-133.7],[1.523,-131.9],[1.588,-131.0],[1.622,-130.2],[1.676,-131.9],[1.664,-130.8],[1.637,-132.7],[1.592,-133.7],[1.576,-134.4],[1.668,-133.5],[1.702,-133.3],[1.756,-129.0],[1.752,-131.2],[1.798,-127.3],[1.798,-131.0],[1.821,-131.5],[1.840,-129.4],[1.859,-131.2],[1.798,-132.7],[1.779,-133.7],[1.847,-133.1],[1.897,-132.7],[1.954,-131.7],[1.966,-131.5],[1.954,-132.5],[1.874,-133.7],[1.534,-134.8],[1.870,-134.4],
[0.431,-121.2],[0.462,-121.2],[0.492,-122.5],[0.511,-122.5],[0.561,-122.9],[0.580,-123.5],[0.664,-122.9],[0.473,-124.4],[0.538,-124.4],[0.618,-124.8],[0.653,-124.4],[0.702,-124.4],[0.595,-125.8],[0.634,-126.3],[0.664,-126.0],[0.740,-126.0],[0.561,-127.7],[0.599,-127.7],[0.698,-127.9],[0.702,-129.8],[0.733,-128.7],[0.817,-131.7]];

var FONT = 'DejaVu Serif';

var samples = [].concat(cloudA, cloudA2, cloudB, cloudB2, cloudC, cloudC2, cloudD, cloudD2, cloudE, cloudE2, cloudF, cloudF2, cloudHigh).map(function(p) {
	return {x: p[0], y: p[1]};
});
var mean = meanX.map(function(x, i) { return {x: x, y: meanY[i]}; });

function minusSign(v) {
	return String(v).replace('-', '\u2212');
}

// draw a run of text pieces (italic, sub/superscripts) centred on cx
function drawPieces(ctx, pieces, cx, y) {
	var total = 0;
	pieces.forEach(function(p) {
		ctx.font = p.font;
		p.w = ctx.measureText(p.text).width;
		total += p.w;
	});
	var x = cx - total / 2;
	pieces.forEach(function(p) {
		ctx.font = p.font;
		ctx.fillText(p.text, x, y + (p.dy || 0));
		x += p.w;
	});
}

var frame = {
	id: 'frame',
	afterDatasetsDraw: function(chart) {
		var ctx = chart.ctx, a = chart.chartArea;
		var sx = chart.scales.x, sy = chart.scales.y;
		var len = 10;
		ctx.save();
		ctx.strokeStyle = 'rgba(0,0,0,0.6)';
		ctx.lineWidth = 1;
		ctx.beginPath();
		xTicks.forEach(function(v) {
			var px = Math.round(sx.getPixelForValue(v)) + 0.5;
			ctx.moveTo(px, a.bottom); ctx.lineTo(px, a.bottom - len);
			ctx.moveTo(px, a.top); ctx.lineTo(px, a.top + len);
		});
		yTicks.forEach(function(v) {
			var py = Math.round(sy.getPixelForValue(v)) + 0.5;
			ctx.moveTo(a.left, py); ctx.lineTo(a.left + len, py);
			ctx.moveTo(a.right, py); ctx.lineTo(a.right - len, py);
		});
		ctx.stroke();
		ctx.strokeStyle = '#000';
		ctx.lineWidth = 1.3;
		ctx.strokeRect(a.left, a.top, a.right - a.left, a.bottom - a.top);
		ctx.restore();
	},
	afterDraw: function(chart) {
		var ctx = chart.ctx, a = chart.chartArea;
		ctx.save();
		ctx.fillStyle = '#000';
		ctx.textBaseline = 'alphabetic';
		ctx.textAlign = 'left';

		// y title
		ctx.save();
		ctx.translate(21, (a.top + a.bottom) / 2);
		ctx.rotate(-Math.PI / 2);
		drawPieces(ctx, [
			{text: 'MSE', font: 'italic 25px ' + FONT},
			{text: 'i', font: 'italic 17px ' + FONT, dy: 4},
			{text: ' [dB]', font: '25px ' + FONT}
		], 0, 0);
		ctx.restore();

		// x title
		drawPieces(ctx, [
			{text: '#', font: '24px ' + FONT},
			{text: 'M', font: 'italic 24px ' + FONT},
			{text: 'i', font: 'italic 16px ' + FONT, dy: 4}
		], (a.left + a.right) / 2, 322);

		// axis multiplier
		drawPieces(ctx, [
			{text: '\u00b710', font: '18px ' + FONT},
			{text: '4', font: '13px ' + FONT, dy: -8}
		], 576, 322);
		ctx.restore();
	}
};

Chart.defaults.font.family = FONT;
Chart.defaults.font.size = 19;
Chart.defaults.color = '#000';

var ctx = document.getElementById('mycanvas');
var chart = new Chart(ctx, {
	type: 'scatter',
	data: {
		datasets: [
			{
				type: 'line',
				data: mean,
				borderColor: '#ff0000',
				borderWidth: 2.2,
				pointRadius: 0,
				tension: 0,
				borderJoinStyle: 'round',
				clip: 0,
				order: 0
			},
			{
				data: samples,
				backgroundColor: 'rgba(0,0,0,0.2)',
				borderWidth: 0,
				pointRadius: 3.3,
				clip: 0,
				order: 1
			}
		]
	},
	options: {
		responsive: false,
		animation: false,
		devicePixelRatio: 1,
		events: [],
		layout: { padding: { left: 0, right: 6, top: 3, bottom: 0 } },
		plugins: { legend: { display: false }, tooltip: { enabled: false } },
		scales: {
			x: {
				type: 'linear',
				min: 0,
				max: 2,
				grid: { display: false, drawTicks: false },
				border: { display: false },
				ticks: { padding: 6, maxRotation: 0, callback: function(v) { return String(v); } },
				afterBuildTicks: function(s) { s.ticks = xTicks.map(function(v) { return {value: v}; }); },
				afterFit: function(s) { s.height = 68; s.paddingLeft = 0; s.paddingRight = 0; }
			},
			y: {
				type: 'linear',
				min: -145,
				max: -95.2,
				grid: { display: false, drawTicks: false },
				border: { display: false },
				ticks: { padding: 10, callback: function(v) { return minusSign(v); } },
				afterBuildTicks: function(s) { s.ticks = yTicks.map(function(v) { return {value: v}; }); },
				afterFit: function(s) { s.width = 106; s.paddingTop = 0; s.paddingBottom = 0; }
			}
		}
	},
	plugins: [frame]
});
</script>
</body>
</html>
